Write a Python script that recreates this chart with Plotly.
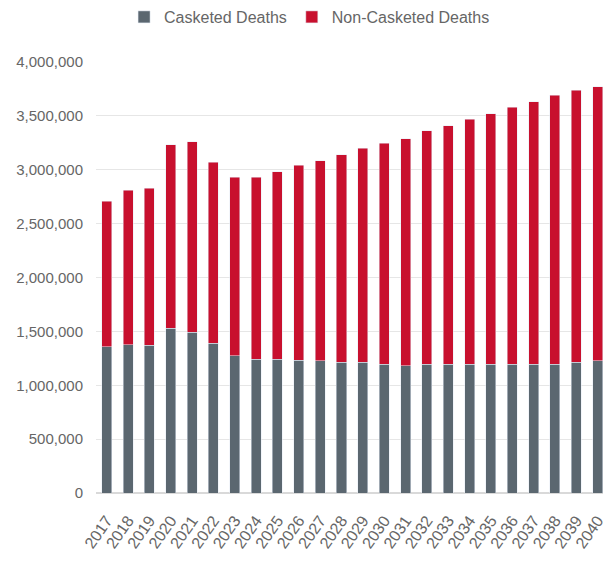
import plotly.graph_objects as go

years = [str(y) for y in range(2017, 2041)]
totals = [2710000, 2810000, 2830000, 3230000, 3260000, 3070000, 2930000, 2930000,
          2980000, 3040000, 3085000, 3140000, 3200000, 3245000, 3290000, 3360000,
          3410000, 3470000, 3520000, 3580000, 3630000, 3690000, 3740000, 3770000]
casketed = [1358000, 1376000, 1373000, 1528000, 1494000, 1389000, 1274000, 1240000,
            1240000, 1234000, 1228000, 1213000, 1213000, 1197000, 1180000, 1197000,
            1197000, 1197000, 1197000, 1197000, 1197000, 1197000, 1213000, 1228000]
non_casketed = [t - c for t, c in zip(totals, casketed)]

grey = "#5b6770"
red = "#c8102e"
font_family = "Liberation Sans Narrow, Arial Narrow, Liberation Sans, Arial, sans-serif"

fig = go.Figure()
fig.add_trace(go.Bar(x=years, y=casketed, name="Casketed Deaths", marker_color=grey))
fig.add_trace(go.Bar(x=years, y=non_casketed, name="Non-Casketed Deaths", marker_color=red))

fig.update_layout(
    barmode="stack",
    bargap=0.53,
    width=607, height=564,
    margin=dict(l=96, r=0, t=62, b=71),
    paper_bgcolor="white", plot_bgcolor="white",
    font=dict(family=font_family, color="#666666", size=15),
    legend=dict(orientation="h", xref="container", yref="container",
                x=0.51, y=1.0, xanchor="center", yanchor="top",
                font=dict(size=16, color="#666666"), traceorder="normal",
                itemwidth=30),
    showlegend=True,
)
fig.update_xaxes(type="category", range=[-0.5, 23.25], tickangle=-55,
                 showgrid=False, showline=False, ticks="", ticklabelstandoff=14,
                 tickfont=dict(size=16, color="#666666"))
fig.update_yaxes(range=[0, 4000000], tickvals=[0, 500000, 1000000, 1500000, 2000000,
                                                2500000, 3000000, 3500000, 4000000],
                 tickformat=",d", showgrid=True, gridcolor="#e6e6e6", gridwidth=1,
                 zeroline=True, zerolinecolor="#d9d9d9", ticks="", ticklabelstandoff=12,
                 tickfont=dict(size=15, color="#666666"))

fig.write_html("out.html")
